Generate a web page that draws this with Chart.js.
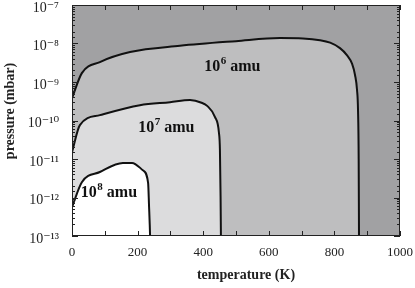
<!DOCTYPE html>
<html>
<head>
<meta charset="utf-8">
<script src="https://cdn.jsdelivr.net/npm/chart.js@4/dist/chart.umd.min.js"></script>
<style>
html,body{margin:0;padding:0;background:#fff;}
#wrap{width:415px;height:288px;}
</style>
</head>
<body>
<div id="wrap"><canvas id="c" width="415" height="288"></canvas></div>
<script>
// Contour of 10^6 amu (temperature K, pressure mbar)
const t6 = [0, 30, 85, 177, 329, 500, 634, 704, 756, 787, 817, 838, 854, 863, 869, 872, 874, 875];
const p6 = [3.8e-10, 1.7e-9, 3.3e-9, 6.0e-9, 8.7e-9, 1.15e-8, 1.38e-8, 1.35e-8, 1.22e-8, 1.05e-8, 7.6e-9, 5.0e-9, 2.95e-9, 1.5e-9, 6.2e-10, 1.86e-10, 1e-11, 1e-13];
// Contour of 10^7 amu
const t7 = [0, 24, 85, 207, 299, 360, 395, 412, 436, 448, 451, 453, 454];
const p7 = [1.5e-11, 7.6e-11, 1.38e-10, 2.5e-10, 3.0e-10, 3.4e-10, 2.9e-10, 2.4e-10, 1.23e-10, 4.8e-11, 1.7e-11, 1e-12, 1e-13];
// Contour of 10^8 amu
const t8 = [0, 30, 85, 155, 183, 216, 232, 235, 237, 238];
const p8 = [5.6e-13, 2.5e-12, 4.6e-12, 7.9e-12, 7.9e-12, 5.1e-12, 2.4e-12, 5.6e-13, 2e-13, 1e-13];
// Region labels
const regionMass = ['6', '7', '8'];
const regionT = [488, 287, 112];
const regionP = [2.45e-9, 6.5e-11, 1.32e-12];
// Tick labels
const xTickLabels = [0, 200, 400, 600, 800, 1000];
const yTickExponents = [-13, -12, -11, -10, -9, -8, -7];
// Axis titles
const xTitle = 'temperature (K)';
const yTitle = 'pressure (mbar)';

const serif = "'Liberation Serif','DejaVu Serif',serif";
const supMap = {'-':'\u207B','0':'\u2070','1':'\u00B9','2':'\u00B2','3':'\u00B3','4':'\u2074','5':'\u2075','6':'\u2076','7':'\u2077','8':'\u2078','9':'\u2079'};
const sup = s => String(s).split('').map(ch => supMap[ch]).join('');

function pts(t, p){ return t.map((v,i)=>({x:v, y:p[i]})); }

const bgPlugin = {
  id:'bg',
  beforeDatasetsDraw(chart){
    const {ctx, chartArea:a} = chart;
    ctx.save();
    ctx.fillStyle = '#a1a1a3';
    ctx.fillRect(a.left, a.top, a.right-a.left, a.bottom-a.top);
    ctx.restore();
  }
};

const framePlugin = {
  id:'frame',
  afterDatasetsDraw(chart){
    const {ctx, scales} = chart;
    ctx.save();
    ctx.fillStyle = '#111';
    ctx.textBaseline = 'middle';
    const big = "bold 16px " + serif, small = "bold 11px " + serif;
    for (let i=0;i<regionMass.length;i++){
      const x = scales.x.getPixelForValue(regionT[i]);
      const y = scales.y.getPixelForValue(regionP[i]);
      ctx.font = big;
      const w1 = ctx.measureText('10').width;
      const w3 = ctx.measureText(' amu').width;
      ctx.font = small;
      const w2 = ctx.measureText(regionMass[i]).width;
      let x0 = x - (w1+w2+w3)/2;
      ctx.textAlign = 'left';
      ctx.font = big;
      ctx.fillText('10', x0, y);
      ctx.font = small;
      ctx.fillText(regionMass[i], x0+w1+0.5, y-6);
      ctx.font = big;
      ctx.fillText(' amu', x0+w1+w2+0.5, y);
    }
    ctx.restore();
  },
  afterDraw(chart){
    const {ctx, chartArea:a, scales} = chart;
    ctx.save();
    ctx.strokeStyle = '#222';
    ctx.lineWidth = 1;
    scales.y.ticks.forEach(tk => {
      const y = Math.round(scales.y.getPixelForValue(tk.value)) + 0.5;
      const l = Math.log10(tk.value);
      const major = Math.abs(l - Math.round(l)) < 1e-6;
      const len = major ? 6 : 3;
      ctx.beginPath();
      ctx.moveTo(a.left, y); ctx.lineTo(a.left+len, y);
      ctx.moveTo(a.right, y); ctx.lineTo(a.right-len, y);
      ctx.stroke();
    });
    scales.x.ticks.forEach(tk => {
      const x = Math.round(scales.x.getPixelForValue(tk.value)) + 0.5;
      ctx.beginPath();
      ctx.moveTo(x, a.bottom); ctx.lineTo(x, a.bottom-5);
      ctx.moveTo(x, a.top); ctx.lineTo(x, a.top+5);
      ctx.stroke();
    });
    ctx.strokeRect(a.left+0.5, a.top+0.5, a.right-a.left-1, a.bottom-a.top-1);
    // axis titles
    ctx.fillStyle = '#222';
    ctx.font = "bold 14px " + serif;
    ctx.textAlign = 'center';
    ctx.textBaseline = 'middle';
    ctx.fillText(xTitle, 246, 275);
    ctx.translate(10, 111);
    ctx.rotate(-Math.PI/2);
    ctx.fillText(yTitle, 0, 0);
    ctx.restore();
  }
};

const lineStyle = {borderColor:'#111', borderWidth:2, pointRadius:0, cubicInterpolationMode:'monotone', fill:'start'};

new Chart(document.getElementById('c'), {
  type:'line',
  data:{
    datasets:[
      Object.assign({label:'10^6 amu', data:pts(t6,p6), backgroundColor:'#bebebf', order:3}, lineStyle),
      Object.assign({label:'10^7 amu', data:pts(t7,p7), backgroundColor:'#dcdcdd', order:2}, lineStyle),
      Object.assign({label:'10^8 amu', data:pts(t8,p8), backgroundColor:'#ffffff', order:1}, lineStyle)
    ]
  },
  options:{
    responsive:false,
    animation:false,
    layout:{padding:{top:5, right:15, left:0, bottom:0}},
    plugins:{legend:{display:false}, tooltip:{enabled:false}},
    scales:{
      x:{
        type:'linear', min:0, max:1000,
        grid:{display:false, drawTicks:false},
        border:{display:false},
        ticks:{stepSize:100, autoSkip:false, maxRotation:0, padding:9, color:'#222',
          font:{family:serif, size:13},
          callback:(v)=> xTickLabels.includes(v) ? String(v) : ''},
        title:{display:false, text:xTitle},
        afterFit:(s)=>{ s.height = 52; s.paddingLeft = 0; s.paddingRight = 0; }
      },
      y:{
        type:'logarithmic', min:1e-13, max:1e-7,
        grid:{display:false, drawTicks:false},
        border:{display:false},
        ticks:{autoSkip:false, padding:13, labelOffset:3, color:'#222',
          font:{family:serif, size:14},
          callback:(v)=>{ const l=Math.log10(v); const e=Math.round(l);
            return (Math.abs(l-e)<1e-6 && yTickExponents.includes(e)) ? '10'+sup(e) : ''; }},
        title:{display:false, text:yTitle},
        afterFit:(s)=>{ s.width = 72; s.paddingTop = 0; s.paddingBottom = 0; }
      }
    }
  },
  plugins:[bgPlugin, framePlugin]
});
</script>
</body>
</html>
